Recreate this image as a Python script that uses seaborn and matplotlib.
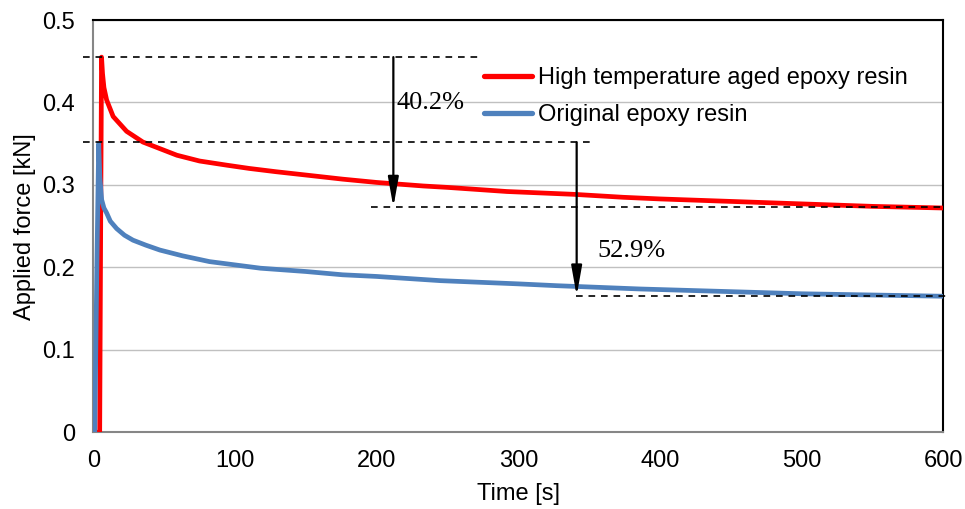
import numpy as np
import pandas as pd
import matplotlib
matplotlib.use("Agg")
import matplotlib.pyplot as plt
import seaborn as sns
from matplotlib.ticker import FuncFormatter

# ---- data ----
red_label = "High temperature aged epoxy resin"
blue_label = "Original epoxy resin"

red_t = [0, 4.5, 5.2, 5.8, 6.5, 7.5, 9.4, 14, 23.5, 35, 47, 59, 75, 94, 110, 129,
         150, 176, 200, 233, 250, 292, 339, 374, 400, 450, 500, 550, 600]
red_f = [0, 0, 0.25, 0.455, 0.435, 0.418, 0.403, 0.383, 0.365, 0.352, 0.344, 0.336,
         0.329, 0.324, 0.320, 0.316, 0.312, 0.307, 0.303, 0.2987, 0.297, 0.292,
         0.2886, 0.285, 0.283, 0.280, 0.277, 0.274, 0.272]

blue_t = [0, 1, 2.5, 3.8, 4.6, 5.9, 7.5, 9.4, 12, 16.5, 22, 28, 37, 47, 63, 82, 100,
          118, 150, 176, 200, 245, 300, 327, 386, 461, 500, 550, 600]
blue_f = [0, 0, 0.2, 0.35, 0.31, 0.282, 0.272, 0.266, 0.256, 0.247, 0.239, 0.233,
          0.227, 0.221, 0.214, 0.207, 0.203, 0.199, 0.195, 0.191, 0.189, 0.1839,
          0.180, 0.1778, 0.1738, 0.170, 0.168, 0.1665, 0.165]

x_ticks = [0, 100, 200, 300, 400, 500, 600]
y_ticks = [0, 0.1, 0.2, 0.3, 0.4, 0.5]

# reference (dashed) levels: (y, x_start, x_end)
dash_levels = [(0.455, -7, 275), (0.3517, -7, 354), (0.273, 196, 602), (0.1655, 341, 602)]
# arrows: (x, y_from, y_to, label, label_x, label_y)
arrows = [(211.8, 0.455, 0.273, "40.2%", 214, 0.399),
          (341.2, 0.3517, 0.1655, "52.9%", 356, 0.2197)]

# ---- build frame ----
df = pd.concat([
    pd.DataFrame({"Time [s]": red_t, "Applied force [kN]": red_f, "series": red_label}),
    pd.DataFrame({"Time [s]": blue_t, "Applied force [kN]": blue_f, "series": blue_label}),
], ignore_index=True)

sns.set_style("white")
plt.rcParams["font.family"] = ["Liberation Sans", "DejaVu Sans"]
plt.rcParams["text.color"] = "black"
plt.rcParams["axes.labelcolor"] = "black"
plt.rcParams["xtick.color"] = "black"
plt.rcParams["ytick.color"] = "black"

fig = plt.figure(figsize=(9.65, 5.09), dpi=100)
ax = fig.add_axes([0.0967, 0.1507, 0.8808, 0.8100])

sns.lineplot(data=df, x="Time [s]", y="Applied force [kN]", hue="series",
             palette={red_label: "#FF0000", blue_label: "#4F81BD"},
             hue_order=[red_label, blue_label], sort=False, estimator=None,
             linewidth=3.4, ax=ax, zorder=3)

ax.set_xlim(0, 600)
ax.set_ylim(0, 0.5)
ax.set_xticks(x_ticks)
ax.set_yticks(y_ticks)
ax.yaxis.set_major_formatter(FuncFormatter(lambda v, p: "0" if v == 0 else f"{v:.1f}"))
ax.grid(axis="y", color="#c0c0c0", lw=1.0, zorder=0)
ax.grid(axis="x", visible=False)

ax.tick_params(axis="x", direction="in", length=5, width=1.2, color="#868686",
               labelsize=17, pad=13)
ax.tick_params(axis="y", direction="out", length=5, width=1.2, color="#868686",
               labelsize=17, pad=8)
ax.set_xlabel("Time [s]", fontsize=17, labelpad=8)
ax.set_ylabel("Applied force [kN]", fontsize=17, labelpad=5)

for s in ["left", "bottom"]:
    ax.spines[s].set_color("#868686")
    ax.spines[s].set_linewidth(1.5)
for s in ["top", "right"]:
    ax.spines[s].set_color("black")
    ax.spines[s].set_linewidth(1.5)

for y, x0, x1 in dash_levels:
    ax.plot([x0, x1], [y, y], color="black", lw=1.2, ls=(0, (4, 3.5)),
            clip_on=False, zorder=5)

for x, y0, y1, lab, lx, ly in arrows:
    ax.annotate("", xy=(x, y1), xytext=(x, y0),
                arrowprops=dict(arrowstyle="-|>,head_length=1.8,head_width=0.32",
                                color="black", lw=1.6, mutation_scale=10,
                                shrinkA=0, shrinkB=0), zorder=6)
    ax.text(lx, ly, lab, fontsize=19, family=["Liberation Serif"],
            ha="left", va="center", zorder=6)

leg = ax.legend(loc="upper left", bbox_to_anchor=(0.449, 0.908), frameon=False,
                fontsize=17, handlelength=2.03, handletextpad=0.22,
                labelspacing=0.64, borderaxespad=0)
for line in leg.get_lines():
    line.set_linewidth(3.8)

fig.savefig("out.png", dpi=100)
